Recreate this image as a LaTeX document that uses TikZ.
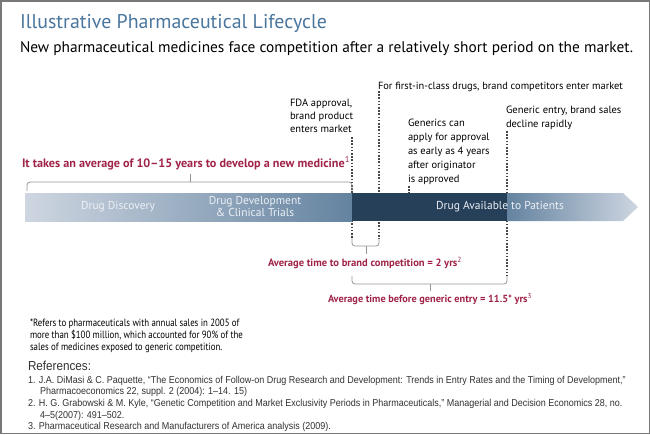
\documentclass[tikz,border=0pt]{standalone}
\usepackage{fontspec}
\setmainfont{PT Sans}
\newfontfamily\reffont[FakeStretch=0.9]{Liberation Sans}
\newfontfamily\condfont[FakeStretch=0.84]{PT Sans}
\usepackage{graphicx}
\definecolor{titleblue}{RGB}{74,118,158}
\definecolor{redtxt}{RGB}{160,36,72}
\definecolor{banddark}{RGB}{38,64,90}
\definecolor{bandmid}{RGB}{100,131,160}
\definecolor{bandlight}{RGB}{206,214,225}
\definecolor{bracketgray}{RGB}{150,150,150}
\definecolor{dotgray}{RGB}{70,70,70}
\definecolor{bandtext}{RGB}{236,240,245}
\definecolor{reftext}{RGB}{50,50,50}
\tikzset{
  txt/.style={inner sep=0pt, outer sep=0pt},
  dotline/.style={draw=dotgray, line width=1.6pt, dash pattern=on 1.6pt off 1.6pt},
  bracket/.style={draw=bracketgray, line width=0.8pt, rounded corners=3pt},
  redlabel/.style={txt, text=redtxt, font=\bfseries},
  reftxt/.style={txt, anchor=base west, text=reftext, font=\reffont\fontsize{10}{12}\selectfont},
}
\begin{document}
\begin{tikzpicture}[x=1pt,y=-1pt]
\useasboundingbox (0,0) rectangle (650,434);
\fill[white] (0,0) rectangle (650,434);
\draw[line width=1.5pt, draw={rgb,255:red,120;green,120;blue,120}] (0.75,0.75) rectangle (649.25,433.25);

% title and subtitle
\node[txt, anchor=base west, text=titleblue] (title) at (20,28)
  {\resizebox{307pt}{!}{\fontsize{25}{30}\selectfont Illustrative Pharmaceutical Lifecycle}};
\node[txt, anchor=base west] (subtitle) at (20,52)
  {\resizebox{613pt}{!}{\fontsize{15}{18}\selectfont New pharmaceutical medicines face competition after a relatively short period on the market.}};

% upper annotations
\node[txt, anchor=base west] (firstclass) at (378,89)
  {\resizebox{245pt}{!}{\fontsize{10.5}{13}\selectfont For first-in-class drugs, brand competitors enter market}};
\node[txt, anchor=north west, align=left, font=\fontsize{10.5}{13}\selectfont] (fda) at (290,99)
  {FDA approval,\\brand product\\enters market};
\node[txt, anchor=north west, align=left, font=\fontsize{10.5}{14}\selectfont] (generics) at (408,119)
  {Generics can\\apply for approval\\as early as 4 years\\after originator\\is approved};
\node[txt, anchor=north west, align=left, font=\fontsize{10.5}{14}\selectfont] (genentry) at (506,106)
  {Generic entry, brand sales\\decline rapidly};

% red label top
\node[redlabel, anchor=base west] (develop) at (22,167)
  {\resizebox{328pt}{!}{\fontsize{11}{13}\selectfont\bfseries It takes an average of 10–15 years to develop a new medicine\textsuperscript{\mdseries 1}}};

% coordinates for dotted markers
\coordinate (d1a) at (352,137); \coordinate (d1b) at (352,239);
\coordinate (d2a) at (379,91);  \coordinate (d2b) at (379,239);
\coordinate (d3a) at (409,186); \coordinate (d3b) at (409,193);
\coordinate (d4a) at (507,131); \coordinate (d4b) at (507,276);
\draw[dotline] (d1a) -- (d1b);
\draw[dotline] (d2a) -- (d2b);
\draw[dotline] (d3a) -- (d3b);
\draw[dotline] (d4a) -- (d4b);

% top bracket
\coordinate (tb1) at (27,191); \coordinate (tb2) at (352,191); \coordinate (tbm) at (190,174);
\draw[bracket] (tb1) -- (27,182) -- (352,182) -- (tb2);
\draw[draw=bracketgray, line width=0.8pt] (tbm) -- (190,182);

% band
\shade[left color=bandlight, right color=bandmid] (25,193) rectangle (352,221);
\fill[banddark] (352,193) rectangle (507,221);
\shade[left color=bandmid, right color=bandlight] (507,193) -- (623,193) -- (638,207) -- (623,221) -- (507,221) -- cycle;

\node[txt, text=bandtext, font=\fontsize{11.5}{13}\selectfont] (disc) at (118,207) {Drug Discovery};
\node[txt, text=bandtext, align=center, font=\fontsize{11.5}{10}\selectfont] (dev) at (255,206.5) {Drug Development\\\& Clinical Trials};
\node[txt, text=bandtext, font=\fontsize{11.5}{13}\selectfont] (avail) at (500,207) {Drug Available to Patients};

% lower brackets
\draw[bracket] (352,238) -- (352,246) -- (379,246) -- (379,238);
\draw[draw=bracketgray, line width=0.8pt] (366,246) -- (366,254);
\node[redlabel, anchor=base west] (brandcomp) at (268,266)
  {\resizebox{194pt}{!}{\fontsize{10}{12}\selectfont\bfseries Average time to brand competition = 2 yrs\textsuperscript{\mdseries 2}}};

\draw[bracket] (352,276) -- (352,284) -- (507,284) -- (507,276);
\draw[draw=bracketgray, line width=0.8pt] (430,284) -- (430,291);
\node[redlabel, anchor=base west] (genericentry) at (328,302)
  {\resizebox{204pt}{!}{\fontsize{10}{12}\selectfont\bfseries Average time before generic entry = 11.5* yrs\textsuperscript{\mdseries 3}}};

% footnote
\node[txt, anchor=north west, align=left, font=\condfont\fontsize{10.5}{12}\selectfont] (foot) at (30,319)
  {*Refers to pharmaceuticals with annual sales in 2005 of\\more than \$100 million, which accounted for 90\% of the\\sales of medicines exposed to generic competition.};

% references
\node[txt, anchor=base west, text=reftext, font=\reffont\fontsize{13}{15}\selectfont] (refhead) at (28,370) {References:};
\node[reftxt] (r1) at (28,383)
  {1. J.A. DiMasi \& C. Paquette, “The Economics of Follow-on Drug Research and Development: Trends in Entry Rates and the Timing of Development,”};
\node[reftxt] (r1b) at (40,394.5)
  {Pharmacoeconomics 22, suppl. 2 (2004): 1–14. 15)};
\node[reftxt] (r2) at (28,406.5)
  {2. H. G. Grabowski \& M. Kyle, “Genetic Competition and Market Exclusivity Periods in Pharmaceuticals,” Managerial and Decision Economics 28, no.};
\node[reftxt] (r2b) at (40,418)
  {4–5(2007): 491–502.};
\node[reftxt] (r3) at (28,429)
  {3. Pharmaceutical Research and Manufacturers of America analysis (2009).};
\end{tikzpicture}
\end{document}
